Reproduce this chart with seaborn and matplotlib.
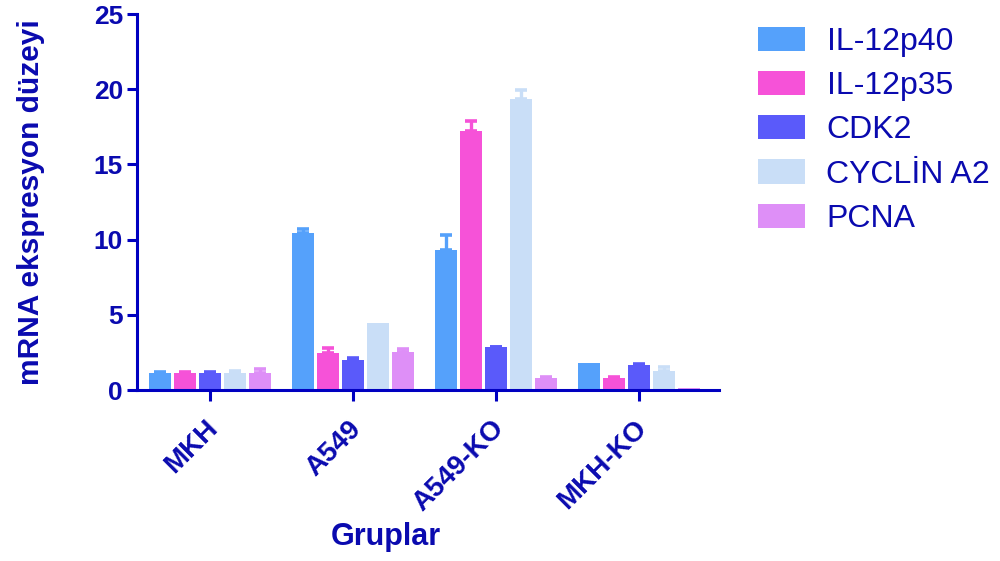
import numpy as np
import pandas as pd
import matplotlib
matplotlib.use("Agg")
import matplotlib.pyplot as plt
import matplotlib.transforms as mtransforms
import seaborn as sns

# Groups (x categories) and genes (hue)
groups = ["MKH", "A549", "A549-KO", "MKH-KO"]
genes = ["IL-12p40", "IL-12p35", "CDK2", "CYCLİN A2", "PCNA"]

# Mean relative mRNA expression per gene, one value per group
il12p40 = [1.15, 10.45, 9.32, 1.80]
il12p35 = [1.15, 2.48, 17.20, 0.82]
cdk2 = [1.15, 2.01, 2.84, 1.66]
cyclin_a2 = [1.15, 4.43, 19.35, 1.26]
pcna = [1.10, 2.56, 0.80, 0.15]

# Upper error (SEM) per gene, one value per group
il12p40_err = [0.08, 0.27, 1.00, 0.00]
il12p35_err = [0.06, 0.30, 0.68, 0.04]
cdk2_err = [0.06, 0.15, 0.04, 0.07]
cyclin_a2_err = [0.12, 0.00, 0.62, 0.29]
pcna_err = [0.33, 0.14, 0.05, 0.00]

y_ticks = [0, 5, 10, 15, 20, 25]

colors = ["#55A1FB", "#F652D8", "#5A5AFA", "#C9DEF7", "#DE8FF7"]
ink = "#0A0AAF"
axis_blue = "#0000C0"

means = [il12p40, il12p35, cdk2, cyclin_a2, pcna]
errors = [il12p40_err, il12p35_err, cdk2_err, cyclin_a2_err, pcna_err]

df = pd.DataFrame(
    [(g, gene, means[j][i]) for j, gene in enumerate(genes) for i, g in enumerate(groups)],
    columns=["Grup", "Gen", "Deger"],
)

sns.set_style("ticks")
plt.rcParams["font.family"] = ["Liberation Sans", "DejaVu Sans"]

fig = plt.figure(figsize=(10, 5.61), dpi=100)
ax = fig.add_axes([0.137, 0.3048, 0.582, 0.670])

sns.barplot(
    data=df, x="Grup", y="Deger", hue="Gen",
    order=groups, hue_order=genes, palette=colors,
    width=0.875, gap=0.12, errorbar=None, saturation=1,
    linewidth=0, ax=ax,
)

# Upper-only error bars in the colour of each bar
bar_containers = list(ax.containers)
for j, cont in enumerate(bar_containers):
    for i, patch in enumerate(cont.patches):
        e = errors[j][i]
        if e <= 0:
            continue
        xc = patch.get_x() + patch.get_width() / 2
        top = patch.get_height()
        ax.errorbar(
            [xc], [top], yerr=[[0], [e]], fmt="none",
            ecolor=colors[j], elinewidth=2.4, capsize=4.5, capthick=2.6,
            zorder=1,
        )

ax.set_ylim(0, 25)
ax.set_xlim(-0.51, 3.56)
ax.set_yticks(y_ticks)
ax.set_yticklabels([str(t) for t in y_ticks])

for side in ["top", "right"]:
    ax.spines[side].set_visible(False)
for side in ["left", "bottom"]:
    ax.spines[side].set_color(axis_blue)
    ax.spines[side].set_linewidth(2.2)

ax.tick_params(axis="y", length=7, width=2.2, color=axis_blue, pad=3,
               labelsize=19, labelcolor=ink)
ax.tick_params(axis="x", length=8, width=2.2, color=axis_blue, pad=17,
               labelsize=20, labelcolor=ink)
for lab in ax.get_yticklabels():
    lab.set_fontweight("bold")
shift = mtransforms.ScaledTranslation(4 / 100, 0, fig.dpi_scale_trans)
for lab in ax.get_xticklabels():
    lab.set_fontweight("bold")
    lab.set_rotation(45)
    lab.set_ha("right")
    lab.set_va("center")
    lab.set_rotation_mode("anchor")
    lab.set_transform(lab.get_transform() + shift)

ax.set_ylabel("mRNA ekspresyon düzeyi", fontsize=21.5, fontweight="bold", color=ink)
ax.yaxis.set_label_coords(-0.158, 0.5)
ax.set_xlabel("Gruplar", fontsize=22, fontweight="bold", color=ink)
ax.xaxis.set_label_coords(0.428, -0.35)
ax.xaxis.label.set_va("top")

ax.legend_.remove()
handles = [plt.Rectangle((0, 0), 1, 1, facecolor=c, edgecolor="none") for c in colors]
leg = fig.legend(
    handles, genes, loc="upper left", bbox_to_anchor=(0.7575, 0.952),
    frameon=False, fontsize=23, handlelength=1.5, handleheight=0.78,
    handletextpad=0.66, labelspacing=0.44, borderpad=0, borderaxespad=0,
)
for t in leg.get_texts():
    t.set_color(ink)

fig.savefig("out.png", dpi=100)
